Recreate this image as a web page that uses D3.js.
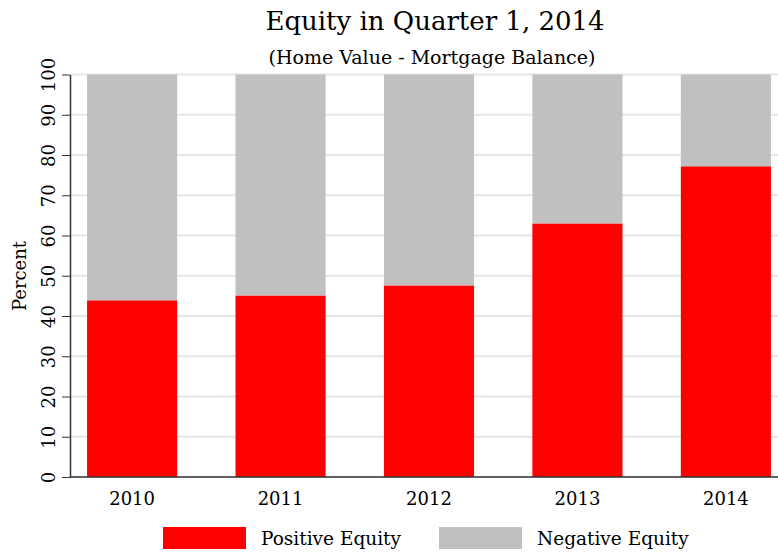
<!DOCTYPE html>
<html>
<head>
<meta charset="utf-8">
<script src="https://d3js.org/d3.v7.min.js"></script>
<style>
  body { margin: 0; background: #fff; }
  text { font-family: "DejaVu Serif", serif; fill: #000; }
  .axis path, .axis line { stroke: #333; }
</style>
</head>
<body>
<svg id="myGraph" width="778" height="555"></svg>
<script>
var years = ["2010", "2011", "2012", "2013", "2014"];
var positive = [43.9, 45.1, 47.6, 63.0, 77.2];
var negative = positive.map(function(d){ return 100 - d; });
var yTicks = [0, 10, 20, 30, 40, 50, 60, 70, 80, 90, 100];
var seriesNames = ["Positive Equity", "Negative Equity"];
var colors = ["#ff0000", "#c0c0c0"];

var svg = d3.select("#myGraph");

// plot area
var plotLeft = 70, plotTop = 74.5, plotBottom = 477;

var x = d3.scaleBand()
          .domain(years)
          .range([plotLeft, 788])
          .paddingInner(0.393)
          .paddingOuter(0.115);

var y = d3.scaleLinear()
          .domain([0, 100])
          .range([plotBottom, plotTop]);

// gridlines
svg.append("g")
   .selectAll("line")
   .data(yTicks)
   .enter()
   .append("line")
   .attr("x1", plotLeft)
   .attr("x2", 778)
   .attr("y1", function(d){ return y(d); })
   .attr("y2", function(d){ return y(d); })
   .attr("stroke", "#e6e6e6")
   .attr("stroke-width", 2);

// stacked bars
var rows = years.map(function(yr, i){
  return { year: yr, pos: positive[i], neg: negative[i] };
});
var stacked = d3.stack().keys(["pos", "neg"])(rows);

svg.append("g")
   .selectAll("g")
   .data(stacked)
   .enter()
   .append("g")
   .attr("fill", function(d, i){ return colors[i]; })
   .selectAll("rect")
   .data(function(d){ return d; })
   .enter()
   .append("rect")
   .attr("x", function(d){ return x(d.data.year); })
   .attr("width", x.bandwidth())
   .attr("y", function(d){ return y(d[1]); })
   .attr("height", function(d){ return y(d[0]) - y(d[1]); });

// y axis (labels rotated)
var yAxis = svg.append("g")
   .attr("class", "axis")
   .attr("transform", "translate(" + plotLeft + ",0)")
   .call(d3.axisLeft(y).tickValues(yTicks).tickSize(8).tickSizeOuter(0));
yAxis.select(".domain").attr("stroke-width", 1.5);
yAxis.selectAll(".tick text")
   .attr("font-size", 18)
   .attr("text-anchor", "middle")
   .attr("x", 0).attr("y", 0)
   .attr("transform", "translate(-21,0) rotate(-90)")
   .attr("dy", "0.35em");

// x axis
var xAxis = svg.append("g")
   .attr("class", "axis")
   .attr("transform", "translate(0," + plotBottom + ")")
   .call(d3.axisBottom(x).tickSize(0).tickPadding(15));
xAxis.select(".domain").attr("d", "M" + plotLeft + ",0H778").attr("stroke-width", 1.5);
xAxis.selectAll("text").attr("font-size", 18);

// y label
svg.append("text")
   .attr("transform", "translate(26,276) rotate(-90)")
   .attr("text-anchor", "middle")
   .attr("font-size", 18)
   .text("Percent");

// titles
svg.append("text")
   .attr("x", 435).attr("y", 30)
   .attr("text-anchor", "middle")
   .attr("font-size", 26)
   .text("Equity in Quarter 1, 2014");
svg.append("text")
   .attr("x", 432).attr("y", 64)
   .attr("text-anchor", "middle")
   .attr("font-size", 19)
   .text("(Home Value - Mortgage Balance)");

// legend
var legend = svg.append("g")
   .selectAll("g")
   .data(seriesNames)
   .enter()
   .append("g")
   .attr("transform", function(d, i){ return "translate(" + (163 + i * 276) + ",527)"; });
legend.append("rect")
   .attr("width", 83).attr("height", 22)
   .attr("fill", function(d, i){ return colors[i]; });
legend.append("text")
   .attr("x", 98).attr("y", 18)
   .attr("font-size", 18.5)
   .text(function(d){ return d; });
</script>
</body>
</html>
